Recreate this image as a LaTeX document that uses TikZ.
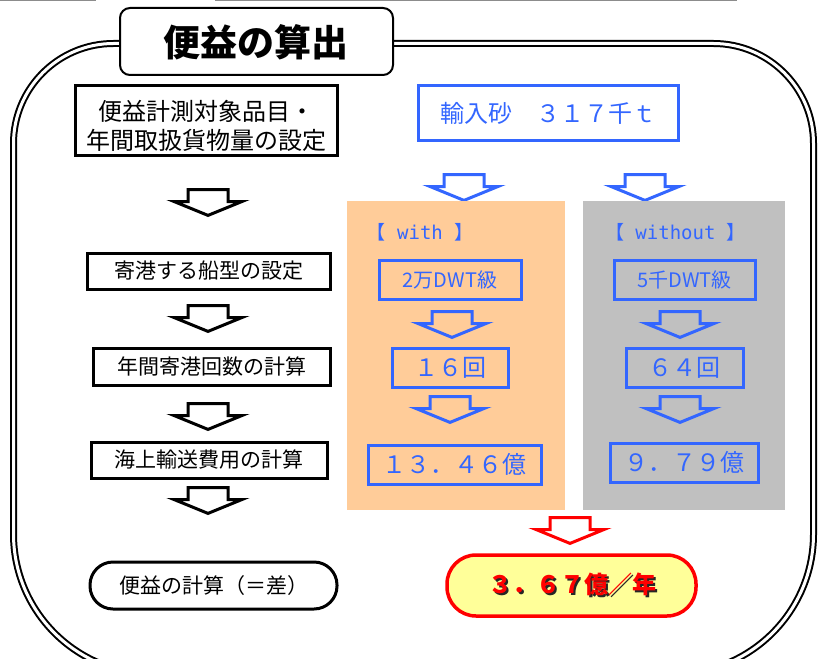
\documentclass[tikz,border=0pt]{standalone}
\usepackage{fontspec}
\setmainfont{Noto Sans CJK JP}
\newfontfamily\monofont{DejaVu Sans Mono}
\newcommand\fsz[1]{\fontsize{#1}{#1}\selectfont}
\definecolor{bl}{HTML}{3366FF}
\definecolor{orp}{HTML}{FFCC99}
\definecolor{grp}{HTML}{C0C0C0}
\definecolor{yel}{HTML}{FFFF99}
\definecolor{lgray}{HTML}{8C8C8C}
\tikzset{
  blackbox/.style={draw=black, line width=3pt, fill=white, inner sep=0pt, font=\fsz{21}},
  bluebox/.style={draw=bl, line width=3pt, inner sep=0pt, text=bl, font=\fsz{24}},
  darrow/.pic={\path[pic actions, line width=3pt, line join=miter]
     (-20,1.5) -- (20,1.5) -- (20,13.5) -- (34,13.5) -- (0,27.4) -- (-34,13.5) -- (-20,13.5) -- cycle;},
}
\begin{document}
\begin{tikzpicture}[x=1pt,y=-1pt]
\useasboundingbox (0,0) rectangle (826,658);
\clip (0,0) rectangle (826,658);
% top edge fragments
\draw[lgray, line width=1.5pt] (0,0.5) -- (96,0.5);
\draw[lgray, line width=1.5pt] (215,0.5) -- (737,0.5);
% outer double frame
\draw[line width=2pt, double=white, double distance=3pt]
  (113.5,43.5) -- (713.5,43.5) arc[start angle=-90, end angle=0, radius=100]
  -- (813.5,534) arc[start angle=0, end angle=90, radius=140]
  -- (153.5,674) arc[start angle=90, end angle=180, radius=140]
  -- (13.5,143.5) arc[start angle=180, end angle=270, radius=100] -- cycle;
% title
\node[draw=black, line width=2pt, fill=white, rounded corners=10pt,
      minimum width=273pt, minimum height=67pt, inner sep=0pt] (title) at (256.5,41.5) {};
\node[font=\fsz{37}\bfseries] (titletext) at (256,42) {便益の算出};
% left column
\node[blackbox, minimum width=262pt, minimum height=69pt] (b1) at (206,120.5) {};
\node[font=\fsz{24}, align=center, inner sep=0pt, text width=260pt,
      execute at begin node=\setlength{\baselineskip}{28.5pt}] (b1text) at (206,126) {便益計測対象品目・\\年間取扱貨物量の設定};
\node[blackbox, minimum width=243pt, minimum height=36pt] (b2) at (208.5,271) {寄港する船型の設定};
\node[blackbox, minimum width=237pt, minimum height=37pt] (b3) at (211.5,366.5) {年間寄港回数の計算};
\node[blackbox, minimum width=236pt, minimum height=36pt] (b4) at (209,460) {海上輸送費用の計算};
\node[blackbox, minimum width=247pt, minimum height=47pt, rounded corners=23pt] (b5) at (213.5,585.5) {便益の計算（＝差）};
\pic[draw=black, fill=white] at (208,188) {darrow};
\pic[draw=black, fill=white] at (208,304) {darrow};
\pic[draw=black, fill=white] at (208,402) {darrow};
\pic[draw=black, fill=white] at (208,486) {darrow};
% cargo
\node[bluebox, fill=white, minimum width=260pt, minimum height=54pt] (sand) at (548,113) {輸入砂　３１７千ｔ};
\pic[draw=bl, fill=white] at (464,173) {darrow};
\pic[draw=bl, fill=white] at (645,173) {darrow};
% panels
\fill[orp] (347,201) rectangle (565,510);
\fill[grp] (583,201) rectangle (785,510);
\node[text=bl, font=\fsz{19}, inner sep=0pt] (withl) at (420,232) {【{\monofont\ with\ }】};
\node[text=bl, font=\fsz{19}, inner sep=0pt] (withoutl) at (675.5,232) {【{\monofont\ without\ }】};
\node[bluebox, font=\fsz{20}, minimum width=142pt, minimum height=39pt] (w1) at (450,279.5) {2万DWT級};
\node[bluebox, minimum width=116pt, minimum height=39pt] (w2) at (450,367.5) {１６回};
\node[bluebox, minimum width=173pt, minimum height=39pt] (w3) at (454.5,464.5) {１３．４６億};
\node[bluebox, font=\fsz{20}, minimum width=141pt, minimum height=39pt] (g1) at (684.5,279.5) {5千DWT級};
\node[bluebox, minimum width=117pt, minimum height=39pt] (g2) at (684.5,367.5) {６４回};
\node[bluebox, minimum width=148pt, minimum height=39pt] (g3) at (684,462.5) {９．７９億};
\pic[draw=bl] at (452,310) {darrow};
\pic[draw=bl] at (450,395) {darrow};
\pic[draw=bl] at (680,310) {darrow};
\pic[draw=bl] at (680,395) {darrow};
% result
\pic[draw=red, fill=white] at (570,516) {darrow};
\node[draw=red, line width=3.5pt, fill=yel, rounded corners=29pt,
      minimum width=249pt, minimum height=61pt, inner sep=0pt] (res) at (571.5,585.5) {};
\node[font=\fsz{24}\bfseries, inner sep=0pt] (restext) at (572,585.5)
  {\rlap{\kern2pt\raisebox{-2pt}{\textcolor{black!85}{３．６７億／年}}}\textcolor{red}{３．６７億／年}};
\end{tikzpicture}
\end{document}
